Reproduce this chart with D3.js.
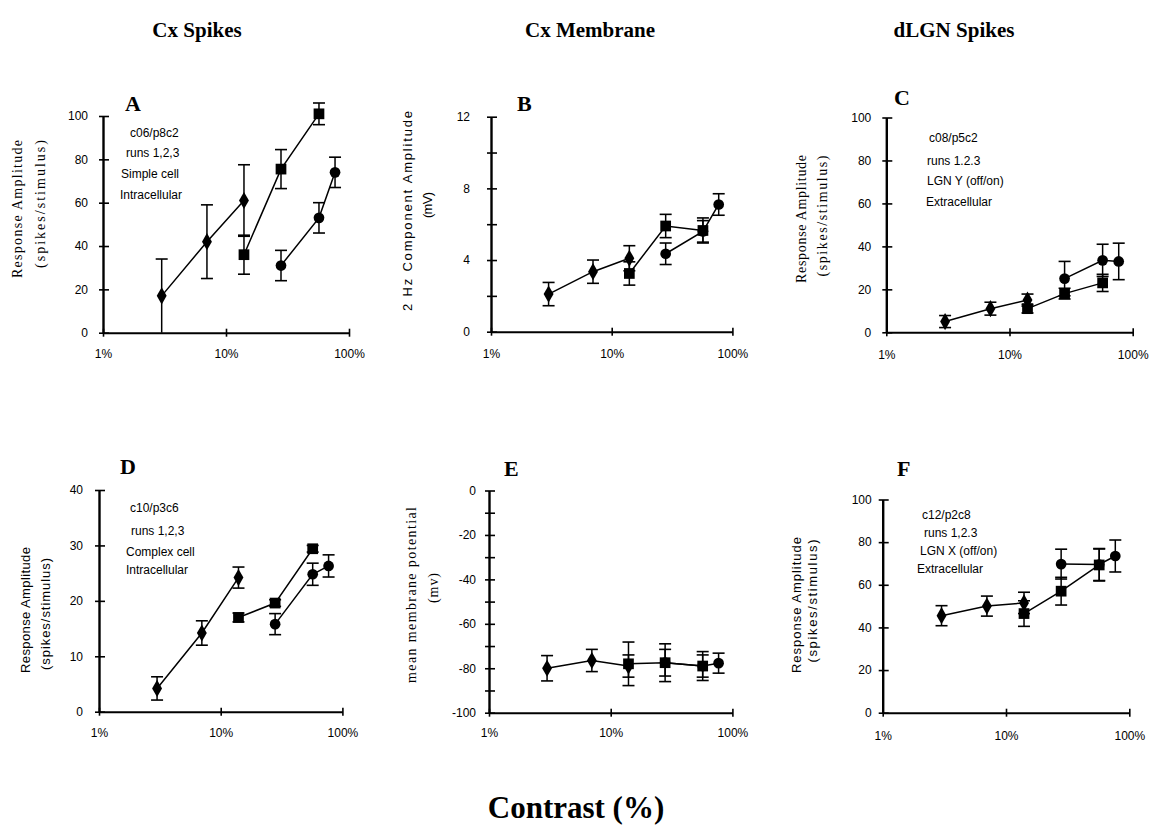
<!DOCTYPE html>
<html>
<head>
<meta charset="utf-8">
<script src="https://cdn.jsdelivr.net/npm/d3@7"></script>
<style>
  html, body { margin: 0; padding: 0; background: #fff; }
  svg { display: block; }
</style>
</head>
<body>
<svg id="chart" width="1152" height="840"></svg>
<script>
// ---------------- DATA ----------------
// contrast levels (%) for the three runs
const run1Contrast = [3, 7, 14];   // diamonds
const run2Contrast = [14, 28, 57]; // squares
const run3Contrast = [28, 57, 77]; // circles

const xTickValues = [1, 10, 100];
const xTickLabels = ["1%", "10%", "100%"];

// Panel A: Cx spikes, simple cell
const aRun1 = [17, 42, 61];    const aRun1Err = [17, 17, 16.5];
const aRun2 = [36, 75.5, 101]; const aRun2Err = [9, 9, 5];
const aRun3 = [31, 53, 74];    const aRun3Err = [7, 7, 7];
const aTicks = [0, 20, 40, 60, 80, 100];
const aTickLabels = [0, 20, 40, 60, 80, 100];

// Panel B: Cx membrane, 2 Hz component
const bRun1 = [2.1, 3.35, 4.1];  const bRun1Err = [0.65, 0.65, 0.7];
const bRun2 = [3.25, 5.9, 5.65]; const bRun2Err = [0.65, 0.65, 0.7];
const bRun3 = [4.35, 5.6, 7.1];  const bRun3Err = [0.6, 0.6, 0.6];
const bTicks = [0, 2, 4, 6, 8, 10, 12];
const bTickLabels = [0, 4, 8, 12];

// Panel C: dLGN spikes, LGN Y
const cRun1 = [5, 11, 15];     const cRun1Err = [2.8, 3, 2.8];
const cRun2 = [11, 18, 23];    const cRun2Err = [2, 2.5, 4];
const cRun3 = [25, 33.5, 33];  const cRun3Err = [8, 7.5, 8.5];
const cTicks = [0, 20, 40, 60, 80, 100];
const cTickLabels = [0, 20, 40, 60, 80, 100];

// Panel D: Cx spikes, complex cell
const dRun1 = [4.2, 14.2, 24.2];  const dRun1Err = [2.1, 2.2, 1.9];
const dRun2 = [17, 19.6, 29.4];   const dRun2Err = [0.8, 0.6, 0.6];
const dRun3 = [15.8, 24.8, 26.3]; const dRun3Err = [1.9, 2, 2];
const dTicks = [0, 10, 20, 30, 40];
const dTickLabels = [0, 10, 20, 30, 40];

// Panel E: Cx membrane, mean membrane potential
const eRun1 = [-80, -76.5, -79];   const eRun1Err = [5.7, 5, 5];
const eRun2 = [-78, -77.5, -79];   const eRun2Err = [9.8, 8.5, 6.5];
const eRun3 = [-77.5, -79, -77.7]; const eRun3Err = [6, 5, 4.5];
const eTicks = [-100, -90, -80, -70, -60, -50, -40, -30, -20, -10, 0];
const eTickLabels = [-100, -80, -60, -40, -20, 0];

// Panel F: dLGN spikes, LGN X
const fRun1 = [45.5, 50, 51.5]; const fRun1Err = [4.7, 4.7, 5];
const fRun2 = [46.5, 57, 69.3]; const fRun2Err = [6, 6.5, 7.5];
const fRun3 = [69.7, 69.5, 73.5]; const fRun3Err = [7, 7.5, 7.5];
const fTicks = [0, 20, 40, 60, 80, 100];
const fTickLabels = [0, 20, 40, 60, 80, 100];

const columnTitles = ["Cx Spikes", "Cx Membrane", "dLGN Spikes"];
const xAxisTitle = "Contrast (%)";

// ---------------- LAYOUT ----------------
function runs(r1, e1, r2, e2, r3, e3) {
  return [
    { shape: "diamond", pts: run1Contrast.map((c, i) => ({ c, v: r1[i], e: e1[i] })) },
    { shape: "square",  pts: run2Contrast.map((c, i) => ({ c, v: r2[i], e: e2[i] })) },
    { shape: "circle",  pts: run3Contrast.map((c, i) => ({ c, v: r3[i], e: e3[i] })) }
  ];
}

const panels = [
  { letter: "A", lx: 125, ly: 111, x0: 103, dec: 123, yDomain: [0, 100], yRange: [332.7, 116], ticks: aTicks, labels: aTickLabels, pad: 15, xlabY: 358,
    series: runs(aRun1, aRun1Err, aRun2, aRun2Err, aRun3, aRun3Err),
    ylab: [{ t: "Response Amplitude", x: 17, y: 209, len: 138 }, { t: "(spikes/stimulus)", x: 40, y: 204, len: 128 }], yfont: "Liberation Serif", yfs: 14,
    notes: { x: [130, 126, 121, 120], y: [137, 157, 178, 199], t: ["c06/p8c2", "runs 1,2,3", "Simple cell", "Intracellular"] } },
  { letter: "B", lx: 517, ly: 111, x0: 491, dec: 120.7, yDomain: [0, 12], yRange: [331.7, 116.7], ticks: bTicks, labels: bTickLabels, pad: 21, xlabY: 358,
    series: runs(bRun1, bRun1Err, bRun2, bRun2Err, bRun3, bRun3Err),
    ylab: [{ t: "2 Hz Component Amplitude", x: 407, y: 211, len: 200 }, { t: "(mV)", x: 427, y: 205, len: 26 }], yfont: "Liberation Sans", yfs: 13,
    notes: null },
  { letter: "C", lx: 894, ly: 105, x0: 886.3, dec: 123.2, yDomain: [0, 100], yRange: [332.3, 117.5], ticks: cTicks, labels: cTickLabels, pad: 15, xlabY: 359,
    series: runs(cRun1, cRun1Err, cRun2, cRun2Err, cRun3, cRun3Err),
    ylab: [{ t: "Response Amplitude", x: 801, y: 219, len: 128 }, { t: "(spikes/stimulus)", x: 822, y: 216, len: 121 }], yfont: "Liberation Serif", yfs: 14,
    notes: { x: [929, 927, 927, 926], y: [142, 165, 185, 206], t: ["c08/p5c2", "runs 1.2.3", "LGN Y (off/on)", "Extracellular"] } },
  { letter: "D", lx: 120, ly: 474, x0: 99, dec: 121.7, yDomain: [0, 40], yRange: [711.7, 490], ticks: dTicks, labels: dTickLabels, pad: 16, xlabY: 737,
    series: runs(dRun1, dRun1Err, dRun2, dRun2Err, dRun3, dRun3Err),
    ylab: [{ t: "Response Amplitude", x: 25, y: 610, len: 126 }, { t: "(spikes/stimulus)", x: 45, y: 614, len: 112 }], yfont: "Liberation Sans", yfs: 13,
    notes: { x: [130, 131, 126, 126], y: [512, 535, 556, 574], t: ["c10/p3c6", "runs 1,2,3", "Complex cell", "Intracellular"] } },
  { letter: "E", lx: 504, ly: 476, x0: 489, dec: 121.7, yDomain: [-100, 0], yRange: [712.7, 490.5], ticks: eTicks, labels: eTickLabels, pad: 13, xlabY: 737,
    series: runs(eRun1, eRun1Err, eRun2, eRun2Err, eRun3, eRun3Err),
    ylab: [{ t: "mean membrane potential", x: 411, y: 595, len: 176 }, { t: "(mv)", x: 433, y: 588, len: 30 }], yfont: "Liberation Serif", yfs: 14,
    notes: null },
  { letter: "F", lx: 897, ly: 476, x0: 882.7, dec: 123.3, yDomain: [0, 100], yRange: [712.7, 499.5], ticks: fTicks, labels: fTickLabels, pad: 11, xlabY: 740,
    series: runs(fRun1, fRun1Err, fRun2, fRun2Err, fRun3, fRun3Err),
    ylab: [{ t: "Response Amplitude", x: 796, y: 605, len: 136 }, { t: "(spikes/stimulus)", x: 812, y: 601, len: 123 }], yfont: "Liberation Sans", yfs: 13,
    notes: { x: [922, 924, 920, 917], y: [519, 537, 555, 573], t: ["c12/p2c8", "runs 1,2.3", "LGN X (off/on)", "Extracellular"] } }
];

// ---------------- DRAW ----------------
const svg = d3.select("#chart");
const SANS = "Liberation Sans, Arial, Helvetica, sans-serif";
const SERIF = "Liberation Serif, Times New Roman, serif";

// column titles
const titleX = [197, 590, 954];
svg.selectAll("text.coltitle").data(columnTitles).join("text")
  .attr("class", "coltitle")
  .attr("x", (d, i) => titleX[i]).attr("y", 37)
  .attr("text-anchor", "middle")
  .style("font-family", SERIF).style("font-weight", "bold").style("font-size", "21px")
  .text(d => d);

svg.append("text")
  .attr("x", 576).attr("y", 818)
  .attr("text-anchor", "middle")
  .style("font-family", SERIF).style("font-weight", "bold").style("font-size", "31px")
  .text(xAxisTitle);

const symbolFor = {
  diamond: d3.symbol().type(d3.symbolDiamond).size(85),
  square: d3.symbol().type(d3.symbolSquare).size(115),
  circle: d3.symbol().type(d3.symbolCircle).size(90)
};

panels.forEach(p => {
  const g = svg.append("g");
  const x = d3.scaleLog().domain([1, 100]).range([p.x0, p.x0 + 2 * p.dec]);
  const y = d3.scaleLinear().domain(p.yDomain).range(p.yRange);
  const xAxisY = p.yRange[0];

  // y axis
  const ya = g.append("g").attr("transform", `translate(${p.x0},0)`)
    .call(d3.axisLeft(y).tickValues(p.ticks).tickSizeOuter(0).tickSizeInner(4).tickPadding(p.pad - 4)
      .tickFormat(d => p.labels.includes(d) ? String(d) : ""));
  ya.select(".domain").attr("stroke", "#000").attr("stroke-width", 2.4);
  ya.selectAll(".tick line").attr("x1", -4).attr("x2", 6).attr("stroke", "#000").attr("stroke-width", 1.6);
  ya.selectAll(".tick text").style("font-family", SANS).style("font-size", "12px").attr("fill", "#000");

  // x axis
  const xa = g.append("g").attr("transform", `translate(0,${xAxisY})`)
    .call(d3.axisBottom(x).tickValues(xTickValues).tickSizeOuter(0).tickSizeInner(4)
      .tickFormat((d, i) => xTickLabels[i]));
  xa.select(".domain").attr("stroke", "#000").attr("stroke-width", 2);
  xa.selectAll(".tick line").attr("y1", -4).attr("y2", 4).attr("stroke", "#000").attr("stroke-width", 1.6);
  xa.selectAll(".tick text").attr("y", p.xlabY - xAxisY).attr("dy", 0)
    .style("font-family", SANS).style("font-size", "12px").attr("fill", "#000");

  // panel letter
  g.append("text").attr("x", p.lx).attr("y", p.ly)
    .style("font-family", SERIF).style("font-weight", "bold").style("font-size", "22px")
    .text(p.letter);

  // y label
  p.ylab.forEach(l => {
    g.append("text")
      .attr("transform", `translate(${l.x},${l.y}) rotate(-90)`)
      .attr("text-anchor", "middle").attr("dominant-baseline", "central")
      .attr("textLength", l.len).attr("lengthAdjust", "spacing")
      .style("font-family", p.yfont + ", sans-serif").style("font-size", p.yfs + "px")
      .text(l.t);
  });

  // notes
  if (p.notes) {
    p.notes.t.forEach((t, i) => {
      g.append("text").attr("x", p.notes.x[i]).attr("y", p.notes.y[i])
        .style("font-family", SANS).style("font-size", "12px")
        .text(t);
    });
  }

  const line = d3.line().x(d => x(d.c)).y(d => y(d.v));
  p.series.forEach(s => {
    // error bars
    const eb = g.append("g");
    s.pts.forEach(d => {
      const cx = x(d.c);
      const lo = Math.max(p.yDomain[0], d.v - d.e), hi = d.v + d.e;
      eb.append("line").attr("x1", cx).attr("x2", cx).attr("y1", y(lo)).attr("y2", y(hi))
        .attr("stroke", "#000").attr("stroke-width", 1.5);
      [hi, lo].forEach(v => {
        if (v === p.yDomain[0] && lo === p.yDomain[0]) return;
        eb.append("line").attr("x1", cx - 6).attr("x2", cx + 6).attr("y1", y(v)).attr("y2", y(v))
          .attr("stroke", "#000").attr("stroke-width", 1.6);
      });
    });
    g.append("path").datum(s.pts).attr("d", line)
      .attr("fill", "none").attr("stroke", "#000").attr("stroke-width", 1.5);
    g.selectAll(null).data(s.pts).join("path")
      .attr("d", symbolFor[s.shape])
      .attr("transform", d => `translate(${x(d.c)},${y(d.v)})`)
      .attr("fill", "#000");
  });
});
</script>
</body>
</html>
